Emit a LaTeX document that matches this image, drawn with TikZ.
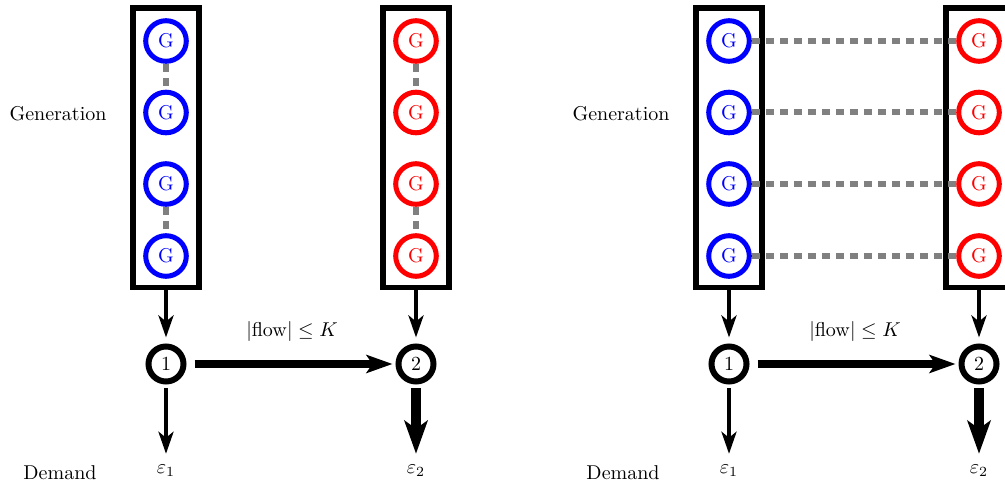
\documentclass[tikz,border=0pt]{standalone}
\usetikzlibrary{arrows.meta}
\begin{document}
\begin{tikzpicture}[x=0.5pt,y=-0.5pt,
  gen/.style={circle,draw,fill=white,line width=2.5pt,minimum size=20.3pt,inner sep=0pt},
  bus/.style={circle,draw=black,fill=white,line width=3pt,minimum size=17.5pt,inner sep=0pt},
  genbox/.style={draw=black,line width=2.6pt,minimum width=33pt,minimum height=139.75pt,inner sep=0pt},
  link/.style={draw=gray,line width=3pt,dash pattern=on 4pt off 3pt},
  thinarrow/.style={line width=2pt,-{Stealth[length=11pt,width=7.5pt,inset=3pt]}},
  flowarrow/.style={line width=4pt,-{Stealth[length=13pt,width=9pt,inset=3pt]}},
  thickarrow/.style={line width=5pt,-{Stealth[length=16.5pt,width=11.5pt,inset=4pt]}},
  lbl/.style={inner sep=0pt}
]
\clip (0,0) rectangle (1005,485);
\useasboundingbox (0,0) rectangle (1005,485);
\foreach \p/\dx in {a/0,b/563}{
  \node[genbox] (box1\p) at ({166+\dx},147.75) {};
  \node[genbox] (box2\p) at ({416+\dx},147.75) {};
  \foreach \i/\yy in {1/41,2/112.5,3/184,4/256}{
    \node[gen,draw=blue,text=blue] (gb\i\p) at ({166+\dx},\yy) {G};
    \node[gen,draw=red,text=red] (gr\i\p) at ({416+\dx},\yy) {G};
  }
  \node[bus] (n1\p) at ({166+\dx},364) {1};
  \node[bus] (n2\p) at ({416+\dx},364) {2};
  \node[lbl] (e1\p) at ({166+\dx},471) {$\varepsilon_1$};
  \node[lbl] (e2\p) at ({416+\dx},471) {$\varepsilon_2$};
  \node[lbl] (gl\p) at ({58+\dx},114) {Generation};
  \node[lbl] (dl\p) at ({60+\dx},473) {Demand};
  \node[lbl] (fl\p) at ({292+\dx},332) {$|\mathrm{flow}|\leq K$};
  \draw[thinarrow,shorten >=3pt] (box1\p.south) -- (n1\p.north);
  \draw[thinarrow,shorten >=3pt] (box2\p.south) -- (n2\p.north);
  \draw[flowarrow,shorten <=4pt,shorten >=1.5pt] (n1\p.east) -- (n2\p.west);
  \draw[thinarrow,shorten <=2pt] (n1\p.south) -- ([yshift=5.5pt]e1\p.north);
  \draw[thickarrow,shorten <=2pt] (n2\p.south) -- ([yshift=5.5pt]e2\p.north);
}
% left panel: vertical links
\draw[link] (gb1a) -- (gb2a);
\draw[link] (gb3a) -- (gb4a);
\draw[link] (gr1a) -- (gr2a);
\draw[link] (gr3a) -- (gr4a);
% right panel: horizontal links
\foreach \i in {1,2,3,4}{
  \draw[link] (gb\i b) -- (gr\i b);
}
\end{tikzpicture}
\end{document}
